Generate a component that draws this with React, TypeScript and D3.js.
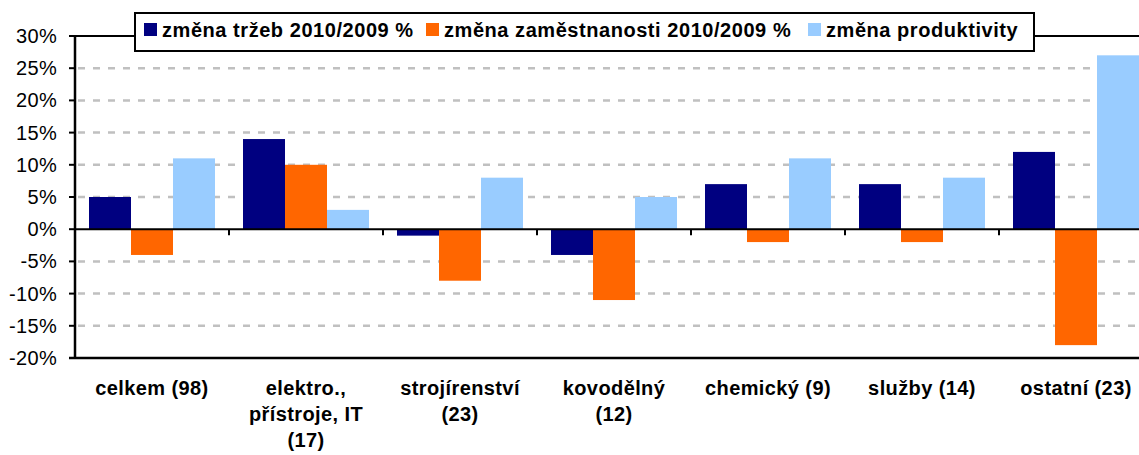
import React from "react";
import * as d3 from "d3";

const categories: string[][] = [
  ["celkem (98)"],
  ["elektro.,", "přístroje, IT", "(17)"],
  ["strojírenství", "(23)"],
  ["kovodělný", "(12)"],
  ["chemický (9)"],
  ["služby (14)"],
  ["ostatní (23)"],
];
const seriesNames = [
  "změna tržeb 2010/2009 %",
  "změna zaměstnanosti 2010/2009 %",
  "změna produktivity",
];
const trzby = [5, 14, -1, -4, 7, 7, 12];
const zamestnanost = [-4, 10, -8, -11, -2, -2, -18];
const produktivita = [11, 3, 8, 5, 11, 8, 27];
const yTicks = [-20, -15, -10, -5, 0, 5, 10, 15, 20, 25, 30];
const colors = ["#000080", "#FF6600", "#99CCFF"];

const W = 1139;
const H = 455;
const left = 75;
const step = 154;
const top = 36;
const bottom = 358;
const FONT = "'Liberation Sans', Arial, Helvetica, sans-serif";

export default function App() {
  const keys = categories.map((c) => c.join(" "));
  const values = [trzby, zamestnanost, produktivita];
  const x0 = d3
    .scaleBand<string>()
    .domain(keys)
    .range([left, left + step * keys.length])
    .padding(0);
  const x1 = d3
    .scaleBand<string>()
    .domain(seriesNames)
    .range([0, x0.bandwidth()])
    .paddingInner(0)
    .paddingOuter(1 / 3);
  const y = d3.scaleLinear().domain([-20, 30]).range([bottom, top]);
  const right = left + step * keys.length;

  const legendX = [144, 426, 808];

  return (
    <svg
      width={W}
      height={H}
      style={{ position: "absolute", left: 0, top: 0, display: "block", background: "#fff" }}
      fontFamily={FONT}
    >
      <rect x={0} y={0} width={W} height={H} fill="#fff" />
      {/* gridlines */}
      {yTicks
        .filter((t) => t !== 0 && t !== 30 && t !== -20)
        .map((t) => (
          <line
            key={"g" + t}
            x1={left}
            x2={right}
            y1={y(t)}
            y2={y(t)}
            stroke="#C0C0C0"
            strokeWidth={2.5}
            strokeDasharray="7 8"
            strokeDashoffset={-3}
          />
        ))}
      {/* bars */}
      {keys.map((k, i) =>
        seriesNames.map((s, j) => {
          const v = values[j][i];
          const yy = Math.min(y(v), y(0));
          const h = Math.abs(y(v) - y(0));
          return (
            <rect
              key={k + s}
              x={(x0(k) as number) + (x1(s) as number)}
              y={yy}
              width={x1.bandwidth()}
              height={h}
              fill={colors[j]}
            />
          );
        })
      )}
      {/* plot border top & bottom */}
      <line x1={left - 6} x2={right} y1={y(30)} y2={y(30)} stroke="#000" strokeWidth={2} />
      <line x1={left - 6} x2={right} y1={y(-20)} y2={y(-20)} stroke="#000" strokeWidth={2.5} />
      {/* zero line */}
      <line x1={left} x2={right} y1={y(0)} y2={y(0)} stroke="#000" strokeWidth={2} />
      {keys.slice(1).map((k) => (
        <line
          key={"ct" + k}
          x1={x0(k) as number}
          x2={x0(k) as number}
          y1={y(0)}
          y2={y(0) + 6}
          stroke="#000"
          strokeWidth={2}
        />
      ))}
      {/* y axis */}
      <line x1={left} x2={left} y1={top} y2={bottom} stroke="#000" strokeWidth={2.5} />
      {yTicks.map((t) => (
        <g key={"yt" + t}>
          <line x1={left - 6} x2={left} y1={y(t)} y2={y(t)} stroke="#000" strokeWidth={2} />
          <text
            x={57}
            y={y(t)}
            dy="0.35em"
            textAnchor="end"
            fontSize={20}
            letterSpacing={0.3}
            fill="#000"
          >
            {t + "%"}
          </text>
        </g>
      ))}
      {/* category labels */}
      {categories.map((lines, i) => (
        <text
          key={"cl" + i}
          x={(x0(keys[i]) as number) + step / 2}
          textAnchor="middle"
          fontSize={20}
          fontWeight="bold"
          letterSpacing={0.4}
          fill="#000"
        >
          {lines.map((ln, li) => (
            <tspan key={li} x={(x0(keys[i]) as number) + step / 2} y={395 + li * 26}>
              {ln}
            </tspan>
          ))}
        </text>
      ))}
      {/* legend */}
      <rect x={135} y={13} width={899} height={38} fill="#fff" stroke="#000" strokeWidth={2} />
      {seriesNames.map((s, j) => (
        <g key={"lg" + j}>
          <rect x={legendX[j]} y={23} width={13} height={13} fill={colors[j]} />
          <text
            x={legendX[j] + 18}
            y={37}
            fontSize={20}
            fontWeight="bold"
            letterSpacing={0.55}
            fill="#000"
          >
            {s}
          </text>
        </g>
      ))}
    </svg>
  );
}
